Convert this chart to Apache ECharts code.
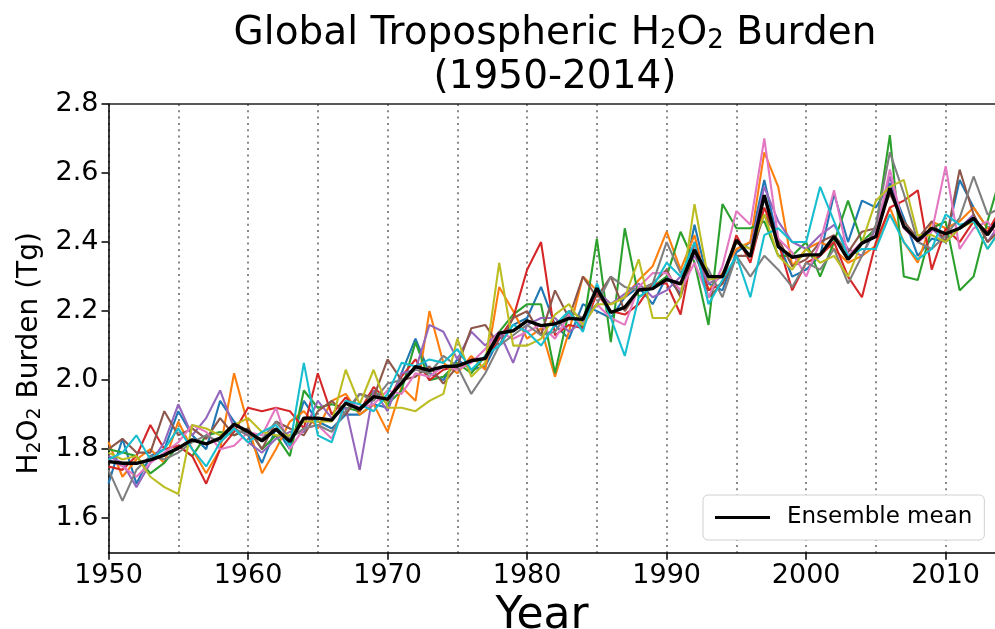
<!DOCTYPE html>
<html>
<head>
<meta charset="utf-8">
<script src="https://cdn.jsdelivr.net/npm/echarts@6/dist/echarts.min.js"></script>
<style>html,body{margin:0;padding:0;background:#fff;}#c{width:995px;height:629px;}</style>
</head>
<body>
<div id="c"></div>
<script>
const years = [];
for (let y = 1950; y <= 2014; y++) years.push(y);

const xTickLabels = [1950, 1960, 1970, 1980, 1990, 2000, 2010];
const yTickLabels = [1.6, 1.8, 2.0, 2.2, 2.4, 2.6, 2.8];

const ensembleMean = [
  1.764,1.759,1.759,1.769,1.783,1.803,1.827,1.815,1.832,1.872,
  1.851,1.824,1.858,1.822,1.890,1.890,1.884,1.933,1.916,1.952,
  1.945,1.991,2.039,2.028,2.039,2.041,2.056,2.063,2.136,2.143,
  2.172,2.158,2.163,2.179,2.176,2.266,2.196,2.211,2.261,2.265,
  2.292,2.279,2.377,2.300,2.300,2.406,2.358,2.536,2.387,2.356,
  2.363,2.363,2.416,2.350,2.397,2.416,2.556,2.445,2.404,2.440,
  2.424,2.440,2.469,2.421,2.480
];

const memberBlue = [
  1.70,1.83,1.70,1.78,1.80,1.91,1.84,1.80,1.94,1.88,
  1.84,1.76,1.86,1.80,1.94,1.88,1.86,1.90,1.90,1.93,
  1.92,2.02,2.12,2.02,2.00,2.06,2.03,2.04,2.12,2.16,
  2.18,2.27,2.16,2.12,2.22,2.20,2.18,2.24,2.27,2.22,
  2.30,2.25,2.45,2.28,2.26,2.37,2.40,2.58,2.40,2.30,
  2.32,2.36,2.54,2.40,2.52,2.50,2.57,2.47,2.36,2.41,
  2.40,2.58,2.50,2.44,2.47
];
const memberOrange = [
  1.82,1.72,1.77,1.80,1.76,1.88,1.80,1.73,1.80,2.02,
  1.87,1.73,1.80,1.88,1.91,1.86,1.94,1.96,1.90,1.93,
  1.85,1.98,1.94,2.20,2.05,2.02,2.07,2.03,2.27,2.20,
  2.12,2.15,2.01,2.14,2.30,2.26,2.22,2.24,2.29,2.33,
  2.43,2.32,2.42,2.26,2.31,2.38,2.40,2.66,2.56,2.33,
  2.38,2.40,2.38,2.34,2.36,2.39,2.50,2.40,2.34,2.46,
  2.44,2.46,2.50,2.44,2.45
];
const memberGreen = [
  1.80,1.79,1.78,1.73,1.76,1.81,1.78,1.84,1.85,1.84,
  1.86,1.80,1.84,1.78,1.97,1.92,1.93,1.92,1.91,1.97,
  1.93,1.97,2.11,2.00,2.01,2.05,2.02,2.07,2.14,2.19,
  2.22,2.22,2.02,2.20,2.15,2.41,2.11,2.44,2.24,2.27,
  2.30,2.43,2.34,2.16,2.51,2.44,2.44,2.46,2.36,2.36,
  2.40,2.30,2.40,2.52,2.40,2.44,2.71,2.30,2.29,2.44,
  2.46,2.26,2.30,2.46,2.60
];
const memberRed = [
  1.75,1.74,1.78,1.87,1.80,1.81,1.78,1.70,1.80,1.85,
  1.92,1.91,1.92,1.91,1.86,2.02,1.90,1.95,1.91,1.98,
  1.94,2.01,2.06,2.00,2.03,2.04,2.06,2.06,2.12,2.18,
  2.32,2.40,2.13,2.16,2.15,2.25,2.20,2.19,2.22,2.28,
  2.28,2.19,2.40,2.26,2.28,2.42,2.34,2.50,2.40,2.26,
  2.34,2.36,2.40,2.30,2.24,2.40,2.50,2.52,2.55,2.32,
  2.44,2.40,2.46,2.43,2.50
];
const memberPurple = [
  1.78,1.76,1.69,1.76,1.82,1.93,1.84,1.89,1.97,1.86,
  1.82,1.79,1.83,1.85,1.85,1.94,1.89,1.92,1.74,1.97,
  1.91,2.02,2.03,2.16,2.14,2.06,2.14,2.10,2.14,2.05,
  2.16,2.18,2.18,2.14,2.17,2.26,2.22,2.25,2.28,2.24,
  2.26,2.30,2.36,2.28,2.30,2.40,2.38,2.56,2.46,2.40,
  2.38,2.42,2.45,2.38,2.36,2.44,2.59,2.44,2.41,2.44,
  2.40,2.44,2.48,2.40,2.46
];
const memberBrown = [
  1.80,1.83,1.79,1.79,1.91,1.84,1.86,1.83,1.89,1.84,
  1.86,1.80,1.88,1.86,1.84,1.91,1.94,1.90,1.96,1.95,
  2.06,2.00,2.01,2.04,1.99,2.04,2.15,2.16,2.10,2.18,
  2.20,2.13,2.26,2.18,2.30,2.24,2.30,2.20,2.26,2.28,
  2.32,2.24,2.38,2.24,2.28,2.36,2.36,2.48,2.41,2.33,
  2.35,2.40,2.42,2.37,2.43,2.44,2.54,2.46,2.41,2.46,
  2.40,2.61,2.48,2.40,2.44
];
const memberPink = [
  1.77,1.75,1.72,1.76,1.79,1.82,1.87,1.85,1.80,1.81,
  1.85,1.84,1.92,1.80,1.86,1.87,1.83,1.94,1.92,1.93,
  1.97,1.96,2.02,2.01,2.04,2.03,2.05,2.09,2.14,2.12,
  2.14,2.16,2.12,2.19,2.16,2.22,2.18,2.16,2.27,2.31,
  2.31,2.26,2.34,2.24,2.33,2.49,2.45,2.70,2.41,2.37,
  2.30,2.40,2.55,2.36,2.40,2.42,2.61,2.44,2.40,2.43,
  2.62,2.38,2.44,2.46,2.40
];
const memberGray = [
  1.74,1.65,1.74,1.78,1.77,1.79,1.82,1.84,1.82,1.86,
  1.84,1.83,1.88,1.83,1.86,1.87,1.85,1.91,1.96,1.94,
  1.99,2.00,2.03,2.02,2.07,2.04,1.96,2.02,2.10,2.13,
  2.16,2.13,2.14,2.20,2.18,2.22,2.30,2.27,2.26,2.28,
  2.40,2.31,2.37,2.32,2.24,2.36,2.30,2.36,2.32,2.27,
  2.34,2.32,2.38,2.28,2.36,2.45,2.66,2.54,2.40,2.38,
  2.42,2.47,2.59,2.48,2.50
];
const memberOlive = [
  1.79,1.77,1.78,1.72,1.69,1.67,1.87,1.86,1.84,1.87,
  1.89,1.85,1.84,1.84,1.88,1.88,1.88,2.03,1.93,2.03,
  1.92,1.92,1.91,1.94,1.96,2.12,2.01,2.05,2.34,2.10,
  2.10,2.12,2.19,2.22,2.16,2.22,2.22,2.24,2.35,2.18,
  2.18,2.24,2.51,2.29,2.30,2.40,2.38,2.48,2.36,2.32,
  2.38,2.34,2.36,2.30,2.40,2.52,2.56,2.58,2.42,2.42,
  2.40,2.44,2.46,2.38,2.44
];
const memberCyan = [
  1.77,1.79,1.84,1.77,1.80,1.86,1.80,1.75,1.82,1.86,
  1.82,1.85,1.87,1.81,2.05,1.84,1.82,1.94,1.93,1.91,
  1.96,2.05,2.04,2.06,2.05,2.09,2.03,2.07,2.10,2.16,
  2.14,2.10,2.16,2.20,2.14,2.28,2.18,2.07,2.24,2.27,
  2.34,2.30,2.40,2.22,2.29,2.36,2.24,2.42,2.44,2.40,
  2.40,2.56,2.46,2.36,2.38,2.38,2.48,2.40,2.35,2.38,
  2.48,2.45,2.46,2.38,2.44
];

const members = [
  ['Member 1', memberBlue, '#1f77b4'],
  ['Member 2', memberOrange, '#ff7f0e'],
  ['Member 3', memberGreen, '#2ca02c'],
  ['Member 4', memberRed, '#d62728'],
  ['Member 5', memberPurple, '#9467bd'],
  ['Member 6', memberBrown, '#8c564b'],
  ['Member 7', memberPink, '#e377c2'],
  ['Member 8', memberGray, '#7f7f7f'],
  ['Member 9', memberOlive, '#bcbd22'],
  ['Member 10', memberCyan, '#17becf']
];

const FONT = 'DejaVu Sans';
const pair = arr => years.map((y, i) => [y, arr[i]]);

const series = members.map(([name, arr, color]) => ({
  name, type: 'line', data: pair(arr), xAxisIndex: 0, yAxisIndex: 0,
  symbol: 'none', silent: true,
  lineStyle: { color, width: 2.1 }, itemStyle: { color }
}));
series.push({
  name: 'Ensemble mean', type: 'line', data: pair(ensembleMean),
  xAxisIndex: 0, yAxisIndex: 0, symbol: 'none', z: 5,
  lineStyle: { color: '#000', width: 3.4 }, itemStyle: { color: '#000' }
});

const titleRich = {
  sub: { fontFamily: FONT, fontSize: 26, verticalAlign: 'bottom', lineHeight: 40, padding: [14, 0, 0, 0] }
};

const chart = echarts.init(document.getElementById('c'), null, { renderer: 'canvas' });
chart.setOption({
  animation: false,
  backgroundColor: '#fff',
  graphic: [
    { type: 'text', x: 555, y: 34, style: {
        text: 'Global Tropospheric H{sub|2}O{sub|2} Burden',
        fontFamily: FONT, fontSize: 39, fill: '#000', align: 'center', verticalAlign: 'middle',
        rich: titleRich } },
    { type: 'text', x: 555, y: 78, style: {
        text: '(1950-2014)', fontFamily: FONT, fontSize: 39, fill: '#000', align: 'center', verticalAlign: 'middle' } }
  ],
  legend: {
    data: [{ name: 'Ensemble mean', icon: 'rect' }],
    left: 703, top: 495,
    padding: [10, 12, 10, 12],
    itemWidth: 55, itemHeight: 3,
    backgroundColor: '#fff',
    borderColor: '#d0d0d0', borderWidth: 1, borderRadius: 5,
    textStyle: { fontFamily: FONT, fontSize: 23, color: '#000', padding: [0, 0, 0, 12], lineHeight: 25 }
  },
  grid: { left: 108.5, top: 104, width: 893, height: 448.7, containLabel: false, outerBoundsMode: 'none' },
  xAxis: [
    {
      type: 'value', min: 1950, max: 2014, position: 'bottom',
      name: 'Year', nameLocation: 'middle', nameGap: 38,
      nameTextStyle: { fontFamily: FONT, fontSize: 44, color: '#000', padding: [0, 26, 0, 0] },
      axisLine: { show: true, lineStyle: { color: '#000', width: 1.5 } },
      axisTick: { show: true, length: 7, customValues: xTickLabels, lineStyle: { color: '#000', width: 1.5 } },
      axisLabel: { customValues: xTickLabels, fontFamily: FONT, fontSize: 27, color: '#000', margin: 10,
        formatter: v => String(Math.round(v)) },
      splitLine: { show: false }
    },
    {
      type: 'value', min: 1950, max: 2014, interval: 5, position: 'top',
      axisLine: { show: true, lineStyle: { color: '#222', width: 1.5 } },
      axisTick: { show: false }, axisLabel: { show: false },
      splitLine: { show: true, lineStyle: { color: '#888', width: 2, type: [2, 4.3] } }
    }
  ],
  yAxis: {
    type: 'value', min: 1.5, max: 2.8,
    name: 'H{sub|2}O{sub|2} Burden (Tg)', nameLocation: 'middle', nameGap: 60,
    nameTextStyle: { fontFamily: FONT, fontSize: 28, color: '#000', padding: [0, 50, 0, 0],
      rich: { sub: { fontFamily: FONT, fontSize: 19, verticalAlign: 'bottom', padding: [10, 0, 0, 0] } } },
    axisLine: { show: true, lineStyle: { color: '#000', width: 1.5 } },
    axisTick: { show: true, length: 7, customValues: yTickLabels, lineStyle: { color: '#000', width: 1.5 } },
    axisLabel: { customValues: yTickLabels, fontFamily: FONT, fontSize: 27, color: '#000', margin: 10,
      formatter: v => Number(v).toFixed(1) },
    splitLine: { show: false }
  },
  series
});
</script>
</body>
</html>
